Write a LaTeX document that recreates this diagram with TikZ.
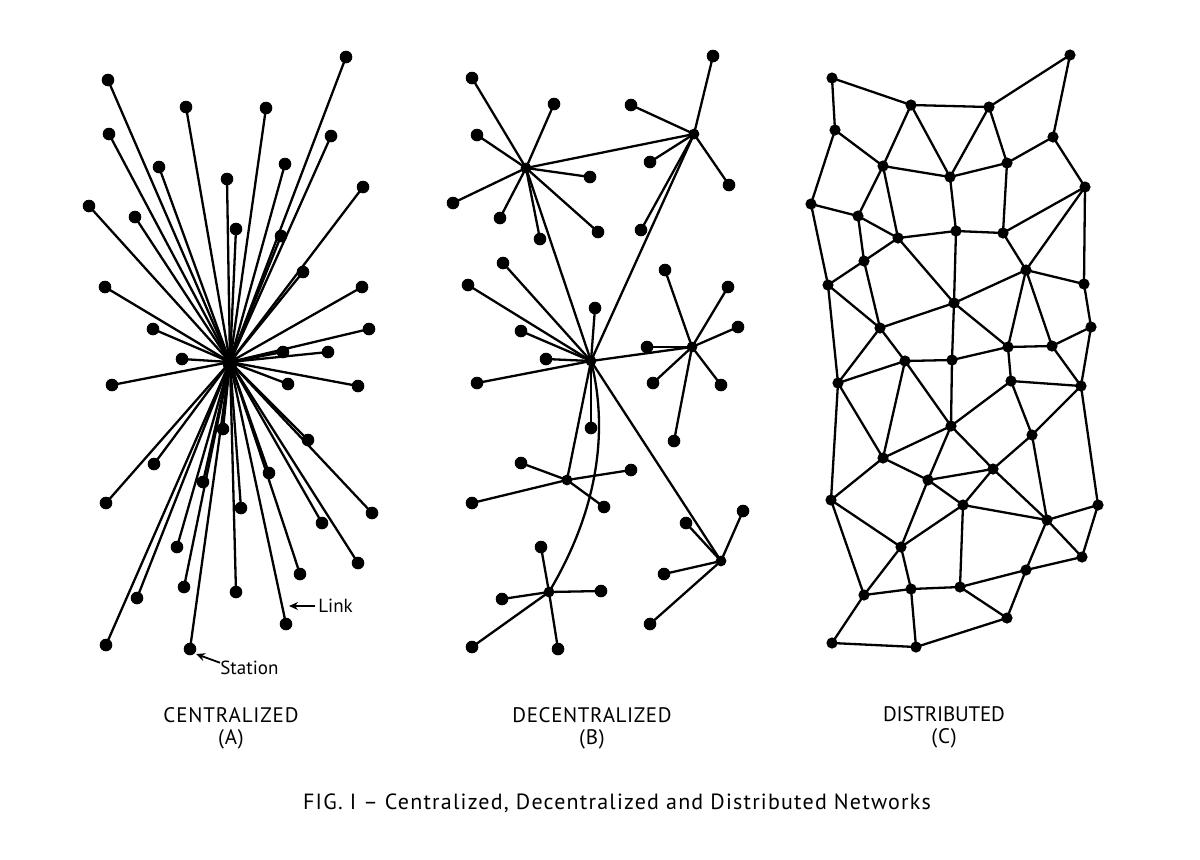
\documentclass[tikz,border=0pt]{standalone}
\usepackage{fontspec}
\setmainfont{PT Sans}
\usetikzlibrary{arrows.meta,shapes.geometric}
\begin{document}
\begin{tikzpicture}[x=0.5pt,y=-0.5pt,
  dot/.style={circle,fill=black,inner sep=0pt,minimum size=6.3pt},
  hubdot/.style={circle,fill=black,inner sep=0pt,minimum size=5.4pt},
  netdot/.style={circle,fill=black,inner sep=0pt,minimum size=5.6pt},
  bighub/.style={ellipse,fill=black,inner sep=0pt,minimum width=7.5pt,minimum height=10pt},
  link/.style={line width=1.15pt,line cap=round},
  lbl/.style={font=\fontsize{10.5}{12}\selectfont,inner sep=0pt},
  note/.style={font=\fontsize{9.5}{11}\selectfont,inner sep=0pt,anchor=west},
  pointer/.style={line width=0.9pt,-{Stealth[length=4.5pt,width=4pt]}}]
\useasboundingbox[fill=white] (0,0) rectangle (1200,859);

% ---------------- Panel A: centralized ----------------
\node[bighub] (ha) at (230,362) {};
\foreach \n/\x/\y in {a1/108/80,a2/346/57,a3/186/107,a4/266/108,a5/109/134,a6/331/136,
  a7/159/167,a8/285/164,a9/227/179,a10/363/187,a11/89/206,a12/135/217,a13/236/229,
  a14/281/236,a15/303/272,a16/105/287,a17/362/287,a18/153/329,a19/369/329,a20/283/352,
  a21/328/352,a22/182/359,a23/112/385,a24/288/384,a25/358/386,a26/223/429,a27/308/440,
  a28/154/464,a29/203/482,a30/269/473,a31/106/503,a32/241/508,a33/372/513,a34/322/523,
  a35/177/547,a36/358/563,a37/300/574,a38/184/587,a39/236/592,a40/137/598,a41/286/624,
  a42/106/645,a43/190/649}
  {\node[dot] (\n) at (\x,\y) {};}
\foreach \n in {a1,a2,a3,a4,a5,a6,a7,a8,a9,a10,a11,a12,a13,a14,a15,a16,a17,a18,a19,a20,
  a21,a22,a23,a24,a25,a26,a27,a28,a29,a30,a31,a32,a33,a34,a35,a36,a37,a38,a39,a40,a41,a42,a43}
  {\draw[link] (ha.center) -- (\n.center);}
\node[bighub] at (ha) {};

\node[note] (linklbl) at (318,606) {Link};
\coordinate (linkpt) at (289,606);
\draw[pointer] (linklbl.west) ++(-3,0) -- (linkpt);
\node[note] (stationlbl) at (220,668) {Station};
\coordinate (stationpt) at (196,654);
\draw[pointer] (stationlbl.north west) ++(0,2) -- (stationpt);

% ---------------- Panel B: decentralized ----------------
\node[hubdot] (b1) at (526,168) {};
\node[hubdot] (b2) at (694,134) {};
\node[hubdot] (b3) at (591,361) {};
\node[hubdot] (b4) at (692,347) {};
\node[hubdot] (b5) at (567,480) {};
\node[hubdot] (b6) at (549,592) {};
\node[hubdot] (b7) at (721,561) {};

\foreach \n/\x/\y/\h in {p1/472/78/b1,p2/554/104/b1,p3/477/135/b1,p4/590/177/b1,p5/453/203/b1,
  p6/500/218/b1,p7/540/239/b1,p8/598/232/b1,
  q1/713/56/b2,q2/631/105/b2,q3/650/162/b2,q4/729/185/b2,q5/641/230/b2,
  r1/468/285/b3,r2/503/263/b3,r3/595/308/b3,r4/521/331/b3,r5/546/359/b3,r6/477/383/b3,r7/591/428/b3,
  s1/665/270/b4,s2/728/287/b4,s3/738/327/b4,s4/647/347/b4,s5/653/383/b4,s6/721/385/b4,s7/674/441/b4,
  t1/521/463/b5,t2/631/470/b5,t3/472/503/b5,t4/604/507/b5,
  u1/541/547/b6,u2/502/599/b6,u3/601/591/b6,u4/472/647/b6,u5/558/649/b6,
  v1/686/523/b7,v2/743/511/b7,v3/664/574/b7,v4/650/624/b7}
  {\node[dot] (\n) at (\x,\y) {};
   \draw[link] (\h.center) -- (\n.center);}
\draw[link] (b1.center) -- (b2.center);
\draw[link] (b1.center) -- (b3.center);
\draw[link] (b2.center) -- (b3.center);
\draw[link] (b3.center) -- (b4.center);
\draw[link] (b3.center) -- (b5.center);
\draw[link] (b3.center) -- (b7.center);
\draw[link] (b3.center) .. controls (606,420) and (604,500) .. (b6.center);

% ---------------- Panel C: distributed ----------------
\foreach \n/\x/\y in {c1/832/78,c2/911/105,c3/989/107,c4/1070/55,c5/835/130,c6/1053/137,
  c7/883/166,c8/950/177,c9/1007/163,c10/1085/187,c11/811/204,c12/858/216,c13/898/238,
  c14/956/231,c15/1003/233,c16/864/261,c17/1026/270,c18/828/285,c19/1084/284,c20/954/303,
  c21/880/328,c22/1091/327,c23/1008/347,c24/1052/346,c25/905/361,c26/952/360,c27/838/383,
  c28/1011/381,c29/1081/386,c30/951/426,c31/1032/435,c32/883/458,c33/993/469,c34/928/480,
  c35/831/500,c36/963/505,c37/1098/505,c38/1047/520,c39/901/547,c40/1082/557,c41/1026/570,
  c42/864/595,c43/911/589,c44/960/587,c45/1007/618,c46/832/643,c47/916/647}
  {\node[netdot] (\n) at (\x,\y) {};}
\foreach \a/\b in {c1/c2,c1/c5,c2/c3,c3/c4,c4/c6,c2/c7,c2/c8,c3/c8,c3/c9,c5/c7,c5/c11,
  c6/c9,c6/c10,c7/c8,c8/c9,c7/c12,c7/c13,c8/c14,c9/c15,c10/c15,c10/c17,c10/c19,c11/c12,
  c11/c18,c12/c13,c12/c16,c13/c14,c14/c15,c13/c16,c13/c20,c14/c20,c15/c17,c16/c18,c16/c21,
  c17/c20,c17/c19,c17/c23,c17/c24,c18/c21,c18/c27,c19/c22,c20/c21,c20/c23,c20/c26,c21/c25,
  c21/c27,c22/c24,c22/c29,c23/c24,c23/c26,c23/c28,c24/c29,c25/c27,c25/c26,c25/c32,c25/c30,
  c26/c30,c28/c29,c28/c30,c28/c31,c29/c31,c29/c37,c27/c32,c27/c35,c30/c32,c30/c34,c30/c33,
  c31/c33,c31/c38,c32/c34,c32/c35,c33/c34,c33/c36,c33/c38,c34/c36,c34/c39,c35/c39,c35/c42,
  c36/c38,c36/c39,c36/c44,c37/c38,c37/c40,c38/c40,c38/c41,c39/c42,c39/c43,c40/c41,c41/c44,
  c41/c45,c42/c43,c42/c46,c43/c44,c43/c47,c44/c45,c45/c47,c46/c47}
  {\draw[link] (\a.center) -- (\b.center);}

% ---------------- Labels ----------------
\node[lbl] (tA) at (231,715) {\addfontfeatures{LetterSpace=4}CENTRALIZED};
\node[lbl] (sA) at (231,739) {\addfontfeatures{LetterSpace=4}(A)};
\node[lbl] (tB) at (592,715) {\addfontfeatures{LetterSpace=3}DECENTRALIZED};
\node[lbl] (sB) at (592,739) {\addfontfeatures{LetterSpace=4}(B)};
\node[lbl] (tC) at (944,714) {\addfontfeatures{LetterSpace=-1}DISTRIBUTED};
\node[lbl] (sC) at (944,738) {\addfontfeatures{LetterSpace=4}(C)};
\node[lbl,font=\fontsize{11}{13}\selectfont] (cap) at (617,803)
  {\addfontfeatures{LetterSpace=5.5}FIG. I -- Centralized, Decentralized and Distributed Networks};
\end{tikzpicture}
\end{document}
